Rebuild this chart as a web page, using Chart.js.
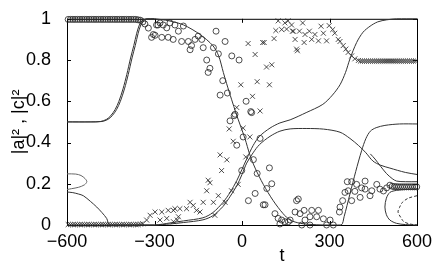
<!DOCTYPE html>
<html>
<head>
<meta charset="utf-8">
<script src="https://cdn.jsdelivr.net/npm/chart.js@4/dist/chart.umd.min.js"></script>
<style>
  html, body { margin: 0; padding: 0; background: #fff; }
  canvas { display: block; }
</style>
</head>
<body>
<canvas id="chart" width="436" height="264"></canvas>
<script>
// axis ticks
const xTicks = [-600, -300, 0, 300, 600];
const yTicks = [0, 0.2, 0.4, 0.6, 0.8, 1];

// circles (o): dense run at 1, scatter, dense run near 0.19
const circleDenseTop = [[-596,0.997],[-588,0.997],[-580,0.997],[-572,0.997],[-564,0.997],[-556,0.997],[-548,0.997],[-540,0.997],[-532,0.997],[-524,0.997],[-516,0.997],[-508,0.997],[-500,0.997],[-492,0.997],[-484,0.997],[-476,0.997],[-468,0.997],[-460,0.997],[-452,0.997],[-444,0.997],[-436,0.997],[-428,0.997],[-420,0.997],[-412,0.997],[-404,0.997],[-396,0.997],[-388,0.997],[-380,0.997],[-372,0.997],[-364,0.997],[-356,0.995],[-348,0.993]];
const circleScatter = [[-340,0.985],[-333,0.975],[-321,0.955],[-310,0.91],[-304,0.924],[-298,0.92],[-293,0.97],[-288,0.97],[-281,0.98],[-275,0.91],[-270,0.97],[-258,0.956],[-253,0.91],[-247,0.98],[-236,0.90],[-230,0.97],[-218,0.94],[-207,0.89],[-201,0.965],[-184,0.89],[-178,0.85],[-173,0.87],[-161,0.90],[-150,0.916],[-138,0.90],[-133,0.86],[-121,0.80],[-116,0.74],[-110,0.76],[-98,0.86],[-89,0.94],[-81,0.83],[-75,0.63],[-66,0.70],[-58,0.89],[-50,0.64],[-41,0.505],[-35,0.82],[-27,0.53],[-24,0.537],[-18,0.387],[-10,0.80],[-1,0.264],[4,0.427],[14,0.60],[22,0.118],[30,0.55],[33,0.545],[39,0.317],[45,0.153],[52,0.25],[62,0.42],[73,0.098],[79,0.098],[85,0.177],[94,0.277],[102,0.20],[113,0.055],[124,0.032],[130,0.005],[136,0.024],[147,0.016],[159,0.016],[165,0.024],[182,0.063],[187,0.118],[193,0.126],[199,0.055],[205,0.0],[213,0.071],[216,0.024],[233,0.04],[233,0.0],[239,0.071],[256,0.04],[262,0.071],[279,0.03],[290,0.0],[302,0.024],[313,0.0],[334,0.063],[336,0.087],[345,0.118],[353,0.158],[361,0.21],[364,0.166],[376,0.21],[376,0.118],[387,0.163],[393,0.197],[405,0.134],[410,0.18],[422,0.174],[422,0.213],[439,0.142],[445,0.166],[462,0.197],[473,0.174],[485,0.165],[496,0.18],[507,0.193]];
const circleDenseEnd = [[515,0.188],[522,0.186],[529,0.186],[536,0.185],[543,0.185],[550,0.185],[557,0.185],[564,0.185],[571,0.185],[578,0.185],[585,0.185],[592,0.185],[599,0.185]];

// crosses (x): dense run at 0, scatter, dense run near 0.8
const crossDenseBottom = [[-596,0.002],[-588,0.002],[-580,0.002],[-572,0.002],[-564,0.002],[-556,0.002],[-548,0.002],[-540,0.002],[-532,0.002],[-524,0.002],[-516,0.002],[-508,0.002],[-500,0.002],[-492,0.002],[-484,0.002],[-476,0.002],[-468,0.002],[-460,0.002],[-452,0.002],[-444,0.002],[-436,0.002],[-428,0.002],[-420,0.002],[-412,0.002],[-404,0.002],[-396,0.002],[-388,0.002],[-380,0.002],[-372,0.002],[-364,0.002],[-356,0.002],[-348,0.004],[-340,0.006]];
const crossScatter = [[-327,0.024],[-315,0.047],[-298,0.063],[-281,0.024],[-275,0.063],[-258,0.032],[-253,0.071],[-235,0.071],[-235,0.016],[-230,0.079],[-222,0.024],[-218,0.04],[-213,0.079],[-190,0.079],[-178,0.11],[-167,0.095],[-156,0.071],[-144,0.063],[-133,0.11],[-121,0.166],[-116,0.217],[-110,0.205],[-98,0.11],[-93,0.047],[-81,0.142],[-75,0.34],[-70,0.264],[-58,0.11],[-52,0.316],[-44,0.466],[-36,0.166],[-30,0.406],[-18,0.57],[-13,0.197],[-4,0.68],[4,0.47],[13,0.33],[21,0.88],[27,0.427],[36,0.624],[45,0.827],[52,0.695],[62,0.553],[71,0.885],[76,0.885],[84,0.766],[94,0.68],[102,0.777],[110,0.904],[116,0.943],[124,0.99],[136,0.948],[147,0.98],[153,0.95],[158,0.99],[170,0.97],[173,0.94],[176,0.94],[182,0.90],[187,0.853],[190,0.845],[197,0.94],[208,0.98],[213,0.885],[216,0.924],[231,0.94],[239,0.90],[250,0.924],[262,0.893],[271,0.964],[279,0.93],[290,0.893],[299,0.967],[311,0.948],[318,0.93],[330,0.90],[336,0.89],[347,0.87],[356,0.853],[364,0.837],[376,0.82],[387,0.806],[399,0.798]];
const crossDenseEnd = [[406,0.795],[413,0.795],[420,0.795],[427,0.795],[434,0.795],[441,0.795],[448,0.795],[455,0.795],[462,0.795],[469,0.795],[476,0.795],[483,0.795],[490,0.795],[497,0.795],[504,0.795],[511,0.795],[518,0.795],[525,0.795],[532,0.795],[539,0.795],[546,0.795],[553,0.795],[560,0.795],[567,0.795],[574,0.795],[581,0.795],[588,0.795],[595,0.795]];

// curves
const curveA1 = [[-600,0.5],[-520,0.5],[-485,0.502],[-465,0.512],[-450,0.53],[-435,0.56],[-422,0.60],[-408,0.66],[-395,0.73],[-382,0.81],[-371,0.87],[-361,0.93],[-352,0.97],[-343,0.99],[-330,1],[-300,1],[-250,0.99],[-200,0.97],[-144,0.924],[-100,0.87],[-80,0.82],[-64,0.74],[-53,0.687],[-36,0.61],[-20,0.54],[-5,0.48],[10,0.42],[27,0.34],[45,0.276],[73,0.197],[107,0.118],[141,0.055],[165,0.024],[200,0.008],[233,0.003],[280,0],[340,0],[350,0.04],[370,0.15],[390,0.26],[410,0.36],[425,0.42],[440,0.455],[460,0.472],[490,0.483],[540,0.49],[600,0.49]];
const curveA2 = [[-600,0.5],[-515,0.5],[-480,0.502],[-460,0.512],[-445,0.53],[-430,0.56],[-417,0.60],[-403,0.66],[-390,0.73],[-377,0.81],[-366,0.87],[-356,0.93],[-347,0.97],[-338,0.99],[-325,1],[-300,1]];
const curveB = [[-600,0],[-300,0],[-247,0.01],[-200,0.02],[-134,0.035],[-100,0.06],[-65,0.11],[-40,0.16],[-18,0.215],[0,0.27],[16,0.32],[38,0.385],[60,0.43],[96,0.47],[130,0.495],[165,0.51],[220,0.545],[277,0.585],[310,0.63],[336,0.68],[355,0.74],[370,0.805],[393,0.885],[415,0.935],[439,0.964],[465,0.985],[496,0.995],[530,1],[600,1]];
const curveC = [[-600,0.16],[-580,0.157],[-560,0.15],[-544,0.142],[-520,0.115],[-498,0.087],[-480,0.06],[-464,0.032],[-453,0],[-300,0],[-247,0.005],[-200,0.012],[-134,0.025],[-100,0.045],[-65,0.09],[-40,0.14],[-18,0.19],[0,0.245],[16,0.30],[38,0.35],[60,0.39],[96,0.43],[130,0.455],[165,0.466],[220,0.468],[280,0.465],[336,0.45],[370,0.42],[400,0.385],[425,0.35],[449,0.31],[475,0.29],[507,0.276],[560,0.255],[600,0.245]];
const loopLeft = [[-600,0.248],[-570,0.247],[-552,0.24],[-538,0.225],[-532,0.21],[-540,0.195],[-560,0.183],[-585,0.176],[-600,0.172]];
const tailRight = [[440,0.345],[456,0.32],[475,0.285],[495,0.25],[515,0.225],[530,0.213],[560,0.21],[600,0.21]];
const loopOuter = [[600,0.175],[560,0.172],[530,0.168],[507,0.158],[495,0.13],[490,0.087],[495,0.05],[507,0.024],[530,0.008],[560,0.002],[600,0]];
const loopInner = [[600,0.142],[570,0.13],[550,0.11],[540,0.085],[535,0.063],[545,0.035],[555,0.016],[575,0.005],[600,0]];

const pts = arr => arr.map(([x, y]) => ({ x, y }));

const lineSet = (arr, extra) => Object.assign({
  data: pts(arr),
  showLine: true,
  pointRadius: 0,
  borderColor: '#333',
  borderWidth: 1,
  tension: 0.3,
  clip: false
}, extra || {});

const circleSet = arr => ({
  data: pts(arr),
  pointStyle: 'circle',
  pointRadius: 3,
  borderColor: '#222',
  backgroundColor: 'rgba(0,0,0,0)',
  pointBorderWidth: 0.8,
  clip: false
});

const crossSet = arr => ({
  data: pts(arr),
  pointStyle: 'crossRot',
  pointRadius: 3.5,
  borderColor: '#222',
  pointBorderWidth: 0.8,
  clip: false
});

const framePlugin = {
  id: 'frame',
  beforeDatasetsDraw(chart) {
    const { ctx, chartArea: a, scales: { x, y } } = chart;
    ctx.save();
    ctx.strokeStyle = '#000';
    ctx.lineWidth = 1;
    ctx.strokeRect(a.left + 0.5, a.top + 0.5, a.right - a.left, a.bottom - a.top);
    ctx.beginPath();
    xTicks.forEach(v => {
      const px = Math.round(x.getPixelForValue(v)) + 0.5;
      ctx.moveTo(px, a.bottom); ctx.lineTo(px, a.bottom - 4);
      ctx.moveTo(px, a.top); ctx.lineTo(px, a.top + 4);
    });
    yTicks.forEach(v => {
      const py = Math.round(y.getPixelForValue(v)) + 0.5;
      ctx.moveTo(a.left, py); ctx.lineTo(a.left + 4, py);
      ctx.moveTo(a.right, py); ctx.lineTo(a.right - 4, py);
    });
    ctx.stroke();
    ctx.restore();
  },
  afterDraw(chart) {
    const { ctx } = chart;
    ctx.save();
    ctx.fillStyle = '#000';
    ctx.font = '18px "Liberation Sans", Arial, sans-serif';
    ctx.textAlign = 'center';
    ctx.textBaseline = 'alphabetic';
    ctx.fillText('t', 282, 261);
    ctx.restore();
  }
};

new Chart(document.getElementById('chart'), {
  type: 'scatter',
  data: {
    datasets: [
      lineSet(curveA1),
      lineSet(curveA2),
      lineSet(curveB),
      lineSet(curveC),
      lineSet(loopLeft, { borderColor: '#666' }),
      lineSet(tailRight),
      lineSet(loopOuter),
      lineSet(loopInner, { borderDash: [3, 2] }),
      circleSet(circleDenseTop),
      circleSet(circleScatter),
      circleSet(circleDenseEnd),
      crossSet(crossDenseBottom),
      crossSet(crossScatter),
      crossSet(crossDenseEnd)
    ]
  },
  options: {
    responsive: false,
    animation: false,
    layout: { padding: { left: 0, top: 14, right: 19, bottom: 0 } },
    plugins: { legend: { display: false }, tooltip: { enabled: false } },
    scales: {
      x: {
        type: 'linear',
        min: -600,
        max: 600,
        afterBuildTicks: s => { s.ticks = xTicks.map(v => ({ value: v })); },
        afterFit: s => { s.height = 39; },
        grid: { display: false },
        border: { display: false },
        ticks: {
          color: '#000',
          padding: -2,
          maxRotation: 0,
          font: { family: '"Liberation Sans", Arial, sans-serif', size: 18 },
          callback: v => (v < 0 ? '\u2212' + Math.abs(v) : String(v))
        }
      },
      y: {
        type: 'linear',
        min: 0,
        max: 1,
        afterBuildTicks: s => { s.ticks = yTicks.map(v => ({ value: v })); },
        afterFit: s => { s.width = 67; },
        grid: { display: false },
        border: { display: false },
        title: {
          display: true,
          text: '|a|\u00b2 , |c|\u00b2',
          color: '#000',
          padding: { top: 8, bottom: 0 },
          font: { family: '"Liberation Sans", Arial, sans-serif', size: 18 }
        },
        ticks: {
          color: '#000',
          padding: 8,
          font: { family: '"Liberation Sans", Arial, sans-serif', size: 18 },
          callback: v => String(Math.round(v * 10) / 10)
        }
      }
    }
  },
  plugins: [framePlugin]
});
</script>
</body>
</html>
